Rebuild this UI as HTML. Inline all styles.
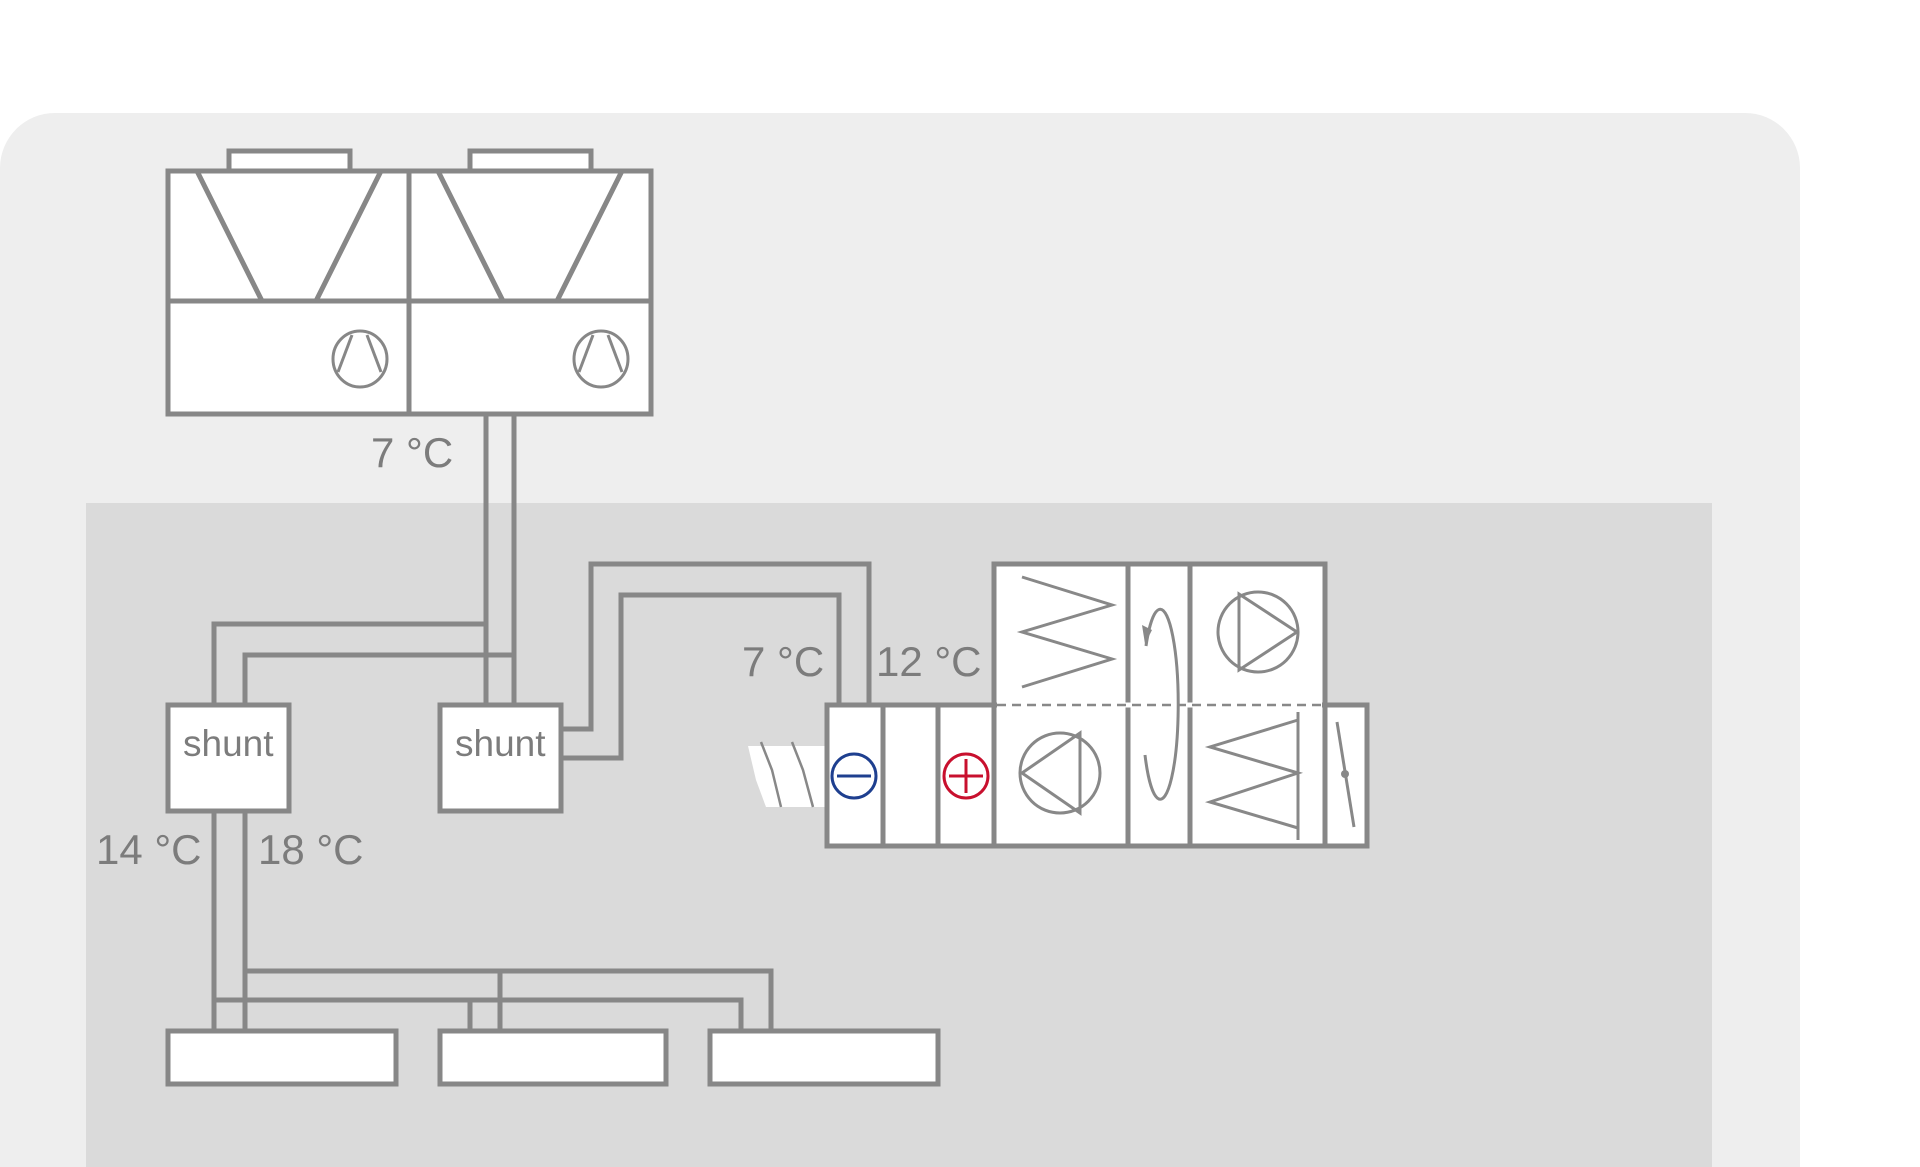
<!DOCTYPE html>
<html><head><meta charset="utf-8"><style>
html,body{margin:0;padding:0;background:#fff;}
svg{display:block;}
text{font-family:"Liberation Sans",Arial,sans-serif;fill:#7c7c7c;}
</style></head><body>
<svg width="1920" height="1167" viewBox="0 0 1920 1167" xmlns="http://www.w3.org/2000/svg">
<rect x="0" y="113" width="1800" height="1110" rx="55" fill="#eeeeee"/>
<rect x="86" y="503" width="1626" height="700" fill="#dadada"/>
<g stroke="#878787" stroke-width="5" fill="none">
<rect x="229" y="151" width="121" height="20" fill="#fff"/>
<rect x="470" y="151" width="121" height="20" fill="#fff"/>
<rect x="168" y="171" width="483" height="243" fill="#fff"/>
<line x1="409" y1="171" x2="409" y2="414"/>
<line x1="168" y1="301" x2="651" y2="301"/>
<polyline points="197,171 262,301"/><polyline points="381,171 316,301"/>
<polyline points="438,171 503,301"/><polyline points="622,171 557,301"/>
<g stroke-width="3">
<ellipse cx="360" cy="359" rx="27" ry="28"/>
<polyline points="352,335 338,372"/><polyline points="367,335 381,372"/>
<ellipse cx="601" cy="359" rx="27" ry="28"/>
<polyline points="593,335 579,372"/><polyline points="608,335 622,372"/>
</g>
<line x1="486" y1="414" x2="486" y2="705"/>
<line x1="514" y1="414" x2="514" y2="705"/>
<polyline points="214,705 214,624 486,624"/>
<polyline points="245,705 245,655 514,655"/>
<polyline points="561,729 591,729 591,564 869,564 869,705"/>
<polyline points="561,758 621,758 621,595 839,595 839,705"/>
<line x1="214" y1="811" x2="214" y2="1031"/>
<line x1="245" y1="811" x2="245" y2="1031"/>
<polyline points="245,971 771,971 771,1031"/>
<polyline points="214,1000 741,1000 741,1031"/>
<line x1="500" y1="971" x2="500" y2="1031"/>
<line x1="470" y1="1000" x2="470" y2="1031"/>
<rect x="168" y="705" width="121" height="106" fill="#fff"/>
<rect x="440" y="705" width="121" height="106" fill="#fff"/>
<rect x="168" y="1031" width="228" height="53" fill="#fff"/>
<rect x="440" y="1031" width="226" height="53" fill="#fff"/>
<rect x="710" y="1031" width="228" height="53" fill="#fff"/>
</g>
<polygon points="748,746 827,746 827,807 766,807 756,780" fill="#fff"/>
<g stroke="#888" stroke-width="2.5" fill="none">
<polyline points="761,742 772,770 781,807"/>
<polyline points="792,742 803,770 813,807"/>
</g>
<g stroke="#878787" stroke-width="5" fill="#fff">
<rect x="994" y="564" width="331" height="141"/>
<rect x="827" y="705" width="540" height="141"/>
<line x1="883" y1="705" x2="883" y2="846"/>
<line x1="938" y1="705" x2="938" y2="846"/>
<line x1="994" y1="705" x2="994" y2="846"/>
<line x1="1128" y1="564" x2="1128" y2="846"/>
<line x1="1190" y1="564" x2="1190" y2="846"/>
<line x1="1325" y1="705" x2="1325" y2="846"/>
</g>
<line x1="997" y1="705" x2="1322" y2="705" stroke="#fff" stroke-width="5"/>
<line x1="997" y1="705" x2="1322" y2="705" stroke="#888" stroke-width="2.5" stroke-dasharray="9,6"/>
<g stroke="#888" stroke-width="3" fill="none">
<polyline points="1022,577 1112,605 1022,632 1112,659 1022,687"/>
<circle cx="1258" cy="632" r="40"/>
<polygon points="1239,594 1239,670 1297,632"/>
<circle cx="1060" cy="773" r="40"/>
<polygon points="1022,773 1080,733 1080,813"/>
<line x1="1298" y1="712" x2="1298" y2="840"/>
<polyline points="1298,720 1210,747 1298,773 1210,802 1298,828"/>
<path d="M1145 755 A18 95 0 1 0 1146 646"/>
<line x1="1337" y1="722" x2="1354" y2="827"/>
</g>
<polygon points="1142,625 1152,630 1145,644" fill="#888"/>
<circle cx="1345" cy="774" r="4" fill="#888"/>
<g stroke-width="3" fill="none">
<circle cx="854" cy="776" r="22" stroke="#1e3f8f"/>
<line x1="837" y1="776" x2="871" y2="776" stroke="#1e3f8f"/>
<circle cx="966" cy="776" r="22" stroke="#c8102e"/>
<line x1="949" y1="776" x2="983" y2="776" stroke="#c8102e"/>
<line x1="966" y1="759" x2="966" y2="793" stroke="#c8102e"/>
</g>
<text x="183" y="756" font-size="37">shunt</text>
<text x="455" y="756" font-size="37">shunt</text>
<text x="371" y="467" font-size="42">7 °C</text>
<text x="742" y="676" font-size="42">7 °C</text>
<text x="876" y="676" font-size="42">12 °C</text>
<text x="96" y="864" font-size="42">14 °C</text>
<text x="258" y="864" font-size="42">18 °C</text>
</svg>
</body></html>
